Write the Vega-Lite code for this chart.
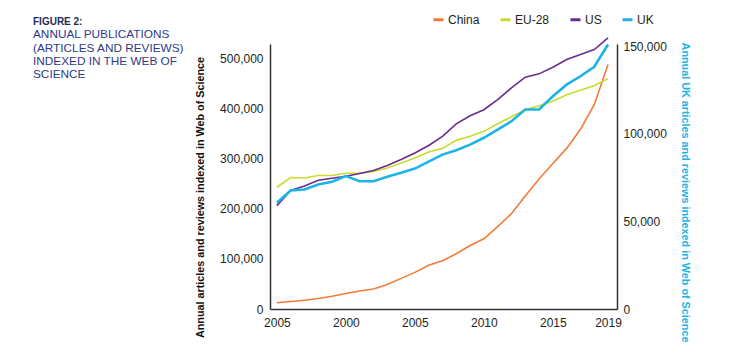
{
  "$schema": "https://vega.github.io/schema/vega-lite/v6.json",
  "width": 347,
  "height": 265,
  "autosize": {"type": "none"},
  "padding": {"left": 270, "top": 44, "right": 117, "bottom": 43},
  "background": "white",
  "title": {
    "text": "FIGURE 2:",
    "subtitle": ["ANNUAL PUBLICATIONS", "(ARTICLES AND REVIEWS)", "INDEXED IN THE WEB OF", "SCIENCE"],
    "anchor": "start",
    "frame": "group",
    "dx": -237,
    "dy": 72,
    "font": "Liberation Sans, Arial, sans-serif",
    "fontSize": 10,
    "fontWeight": "bold",
    "color": "#1F2A5C",
    "subtitleFont": "Liberation Sans, Arial, sans-serif",
    "subtitleFontSize": 11.8,
    "subtitleColor": "#2E3A87",
    "subtitleLineHeight": 13.3,
    "subtitlePadding": 2
  },
  "config": {
    "view": {"stroke": null},
    "axis": {
      "labelFont": "Liberation Sans, Arial, sans-serif",
      "labelFontSize": 12,
      "labelColor": "#231F20",
      "domainColor": "#333333",
      "domainWidth": 1.5,
      "ticks": false,
      "grid": false,
      "titleFont": "Liberation Sans, Arial, sans-serif",
      "titleFontSize": 10.8,
      "titleFontWeight": "bold"
    },
    "legend": {
      "labelFont": "Liberation Sans, Arial, sans-serif",
      "labelFontSize": 12,
      "labelColor": "#231F20"
    }
  },
  "encoding": {
    "x": {
      "field": "year",
      "type": "quantitative",
      "scale": {"domain": [1994.5, 2019.65], "nice": false, "zero": false},
      "axis": {
        "title": null,
        "values": [1995, 2000, 2005, 2010, 2015, 2019],
        "format": "d",
        "labelExpr": "datum.value == 1995 ? '2005' : datum.label",
        "labelPadding": 8,
        "labelFlush": false
      }
    }
  },
  "layer": [
    {
      "data": {"values": [
        {"year": 1995, "country": "China", "value": 12400},
        {"year": 1996, "country": "China", "value": 15000},
        {"year": 1997, "country": "China", "value": 17500},
        {"year": 1998, "country": "China", "value": 21000},
        {"year": 1999, "country": "China", "value": 25500},
        {"year": 2000, "country": "China", "value": 31000},
        {"year": 2001, "country": "China", "value": 36000},
        {"year": 2002, "country": "China", "value": 40000},
        {"year": 2003, "country": "China", "value": 49000},
        {"year": 2004, "country": "China", "value": 61000},
        {"year": 2005, "country": "China", "value": 73000},
        {"year": 2006, "country": "China", "value": 87000},
        {"year": 2007, "country": "China", "value": 96000},
        {"year": 2008, "country": "China", "value": 110000},
        {"year": 2009, "country": "China", "value": 126500},
        {"year": 2010, "country": "China", "value": 140000},
        {"year": 2011, "country": "China", "value": 164000},
        {"year": 2012, "country": "China", "value": 190000},
        {"year": 2013, "country": "China", "value": 225000},
        {"year": 2014, "country": "China", "value": 259000},
        {"year": 2015, "country": "China", "value": 290000},
        {"year": 2016, "country": "China", "value": 320000},
        {"year": 2017, "country": "China", "value": 358000},
        {"year": 2018, "country": "China", "value": 407000},
        {"year": 2019, "country": "China", "value": 487000},
        {"year": 1995, "country": "EU-28", "value": 242600},
        {"year": 1996, "country": "EU-28", "value": 262000},
        {"year": 1997, "country": "EU-28", "value": 261000},
        {"year": 1998, "country": "EU-28", "value": 266000},
        {"year": 1999, "country": "EU-28", "value": 266000},
        {"year": 2000, "country": "EU-28", "value": 270500},
        {"year": 2001, "country": "EU-28", "value": 270500},
        {"year": 2002, "country": "EU-28", "value": 274000},
        {"year": 2003, "country": "EU-28", "value": 281000},
        {"year": 2004, "country": "EU-28", "value": 291000},
        {"year": 2005, "country": "EU-28", "value": 301000},
        {"year": 2006, "country": "EU-28", "value": 313000},
        {"year": 2007, "country": "EU-28", "value": 320000},
        {"year": 2008, "country": "EU-28", "value": 336000},
        {"year": 2009, "country": "EU-28", "value": 344000},
        {"year": 2010, "country": "EU-28", "value": 354000},
        {"year": 2011, "country": "EU-28", "value": 369000},
        {"year": 2012, "country": "EU-28", "value": 383000},
        {"year": 2013, "country": "EU-28", "value": 397000},
        {"year": 2014, "country": "EU-28", "value": 405000},
        {"year": 2015, "country": "EU-28", "value": 414000},
        {"year": 2016, "country": "EU-28", "value": 427000},
        {"year": 2017, "country": "EU-28", "value": 436000},
        {"year": 2018, "country": "EU-28", "value": 445000},
        {"year": 2019, "country": "EU-28", "value": 459000},
        {"year": 1995, "country": "US", "value": 206000},
        {"year": 1996, "country": "US", "value": 236000},
        {"year": 1997, "country": "US", "value": 245000},
        {"year": 1998, "country": "US", "value": 256600},
        {"year": 1999, "country": "US", "value": 260600},
        {"year": 2000, "country": "US", "value": 264500},
        {"year": 2001, "country": "US", "value": 270000},
        {"year": 2002, "country": "US", "value": 276000},
        {"year": 2003, "country": "US", "value": 286000},
        {"year": 2004, "country": "US", "value": 298000},
        {"year": 2005, "country": "US", "value": 311000},
        {"year": 2006, "country": "US", "value": 325700},
        {"year": 2007, "country": "US", "value": 344000},
        {"year": 2008, "country": "US", "value": 369000},
        {"year": 2009, "country": "US", "value": 385000},
        {"year": 2010, "country": "US", "value": 397000},
        {"year": 2011, "country": "US", "value": 417000},
        {"year": 2012, "country": "US", "value": 440600},
        {"year": 2013, "country": "US", "value": 462000},
        {"year": 2014, "country": "US", "value": 468500},
        {"year": 2015, "country": "US", "value": 481700},
        {"year": 2016, "country": "US", "value": 497000},
        {"year": 2017, "country": "US", "value": 507000},
        {"year": 2018, "country": "US", "value": 517000},
        {"year": 2019, "country": "US", "value": 540000}
      ]},
      "mark": {"type": "line", "strokeWidth": 1.6},
      "encoding": {
        "y": {
          "field": "value",
          "type": "quantitative",
          "scale": {"domain": [0, 528000], "nice": false},
          "axis": {
            "title": "Annual articles and reviews indexed in Web of Science",
            "titleColor": "#111111",
            "values": [0, 100000, 200000, 300000, 400000, 500000],
            "format": ",.0f",
            "labelPadding": 7,
            "titleX": -65,
            "titleY": 153,
            "titleAlign": "center"
          }
        },
        "color": {
          "field": "country",
          "type": "nominal",
          "scale": {"domain": ["China", "EU-28", "US", "UK"], "range": ["#F47A38", "#CADB2E", "#6A2C8E", "#1DB3E8"]},
          "legend": {
            "title": null,
            "orient": "none",
            "legendX": 162,
            "legendY": -31,
            "direction": "horizontal",
            "columns": 4,
            "symbolType": "stroke",
            "symbolStrokeWidth": 3,
            "symbolSize": 100,
            "labelOffset": 3,
            "columnPadding": 14
          }
        }
      }
    },
    {
      "data": {"values": [
        {"year": 1995, "country": "UK", "value": 60600},
        {"year": 1996, "country": "UK", "value": 67600},
        {"year": 1997, "country": "UK", "value": 68200},
        {"year": 1998, "country": "UK", "value": 71000},
        {"year": 1999, "country": "UK", "value": 72600},
        {"year": 2000, "country": "UK", "value": 75800},
        {"year": 2001, "country": "UK", "value": 72900},
        {"year": 2002, "country": "UK", "value": 72900},
        {"year": 2003, "country": "UK", "value": 75400},
        {"year": 2004, "country": "UK", "value": 77700},
        {"year": 2005, "country": "UK", "value": 80100},
        {"year": 2006, "country": "UK", "value": 84100},
        {"year": 2007, "country": "UK", "value": 88100},
        {"year": 2008, "country": "UK", "value": 90600},
        {"year": 2009, "country": "UK", "value": 93800},
        {"year": 2010, "country": "UK", "value": 97700},
        {"year": 2011, "country": "UK", "value": 102400},
        {"year": 2012, "country": "UK", "value": 107100},
        {"year": 2013, "country": "UK", "value": 113800},
        {"year": 2014, "country": "UK", "value": 113800},
        {"year": 2015, "country": "UK", "value": 121400},
        {"year": 2016, "country": "UK", "value": 128000},
        {"year": 2017, "country": "UK", "value": 132800},
        {"year": 2018, "country": "UK", "value": 138200},
        {"year": 2019, "country": "UK", "value": 150900}
      ]},
      "mark": {"type": "line", "strokeWidth": 2.6},
      "encoding": {
        "y": {
          "field": "value",
          "type": "quantitative",
          "scale": {"domain": [0, 151200], "nice": false},
          "axis": {
            "orient": "right",
            "title": "Annual UK articles and reviews indexed in Web of Science",
            "titleColor": "#1DB3E8",
            "values": [0, 50000, 100000, 150000],
            "format": ",.0f",
            "labelPadding": 6,
            "titleX": 62,
            "titleY": 148,
            "titleAlign": "center"
          }
        },
        "color": {"field": "country", "type": "nominal"}
      }
    }
  ],
  "resolve": {"scale": {"y": "independent"}}
}
